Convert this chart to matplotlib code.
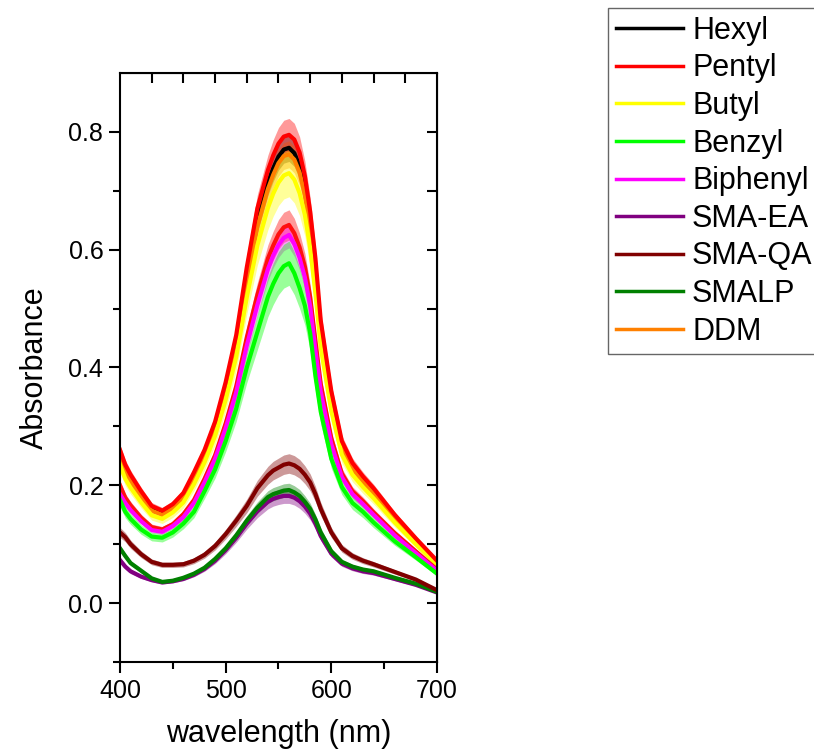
import numpy as np
import matplotlib.pyplot as plt
from matplotlib.ticker import MultipleLocator, FixedLocator

plt.rcParams['font.family'] = ['Liberation Sans', 'DejaVu Sans']

# wavelength grid (nm)
wavelength = [400, 405, 410, 420, 430, 440, 450, 460, 470, 480, 490, 500, 510, 520, 530,
              540, 545, 550, 555, 560, 565, 570, 575, 580, 585, 590, 600, 610, 620, 630,
              640, 660, 680, 700]

# mean absorbance
hexyl = [.251, .227, .211, .184, .160, .152, .163, .182, .215, .253, .300, .365, .443, .553, .649,
         .714, .738, .758, .770, .773, .764, .742, .703, .644, .566, .465, .349, .267, .231, .209,
         .189, .146, .107, .070]
pentyl = [.260, .235, .218, .190, .165, .157, .168, .187, .222, .260, .308, .375, .455, .570, .670,
          .735, .760, .780, .792, .795, .787, .765, .725, .665, .585, .480, .360, .275, .238, .215,
          .195, .150, .110, .072]
butyl = [.235, .211, .196, .171, .149, .143, .154, .171, .202, .239, .284, .345, .418, .519, .607,
         .671, .695, .714, .726, .730, .719, .696, .659, .603, .525, .434, .326, .252, .218, .197,
         .178, .137, .100, .065]
benzyl = [.175, .155, .143, .125, .113, .111, .120, .135, .155, .190, .227, .275, .330, .400, .460,
          .520, .542, .560, .572, .577, .560, .535, .505, .458, .385, .325, .245, .197, .170, .155,
          .137, .105, .078, .050]
biphenyl = [.185, .170, .158, .139, .124, .121, .131, .146, .170, .205, .245, .297, .358, .437, .506,
            .567, .590, .608, .620, .625, .610, .586, .553, .504, .429, .359, .270, .214, .185, .168,
            .150, .115, .085, .055]
sma_ea = [.073, .062, .054, .045, .039, .035, .037, .041, .048, .058, .072, .090, .111, .135, .156,
          .172, .177, .180, .182, .182, .179, .173, .164, .152, .135, .114, .084, .067, .059, .054,
          .051, .041, .031, .018]
sma_qa = [.120, .112, .100, .083, .070, .065, .065, .066, .072, .082, .097, .117, .140, .165, .195,
          .217, .225, .230, .235, .237, .234, .228, .218, .205, .185, .160, .120, .093, .080, .072,
          .066, .053, .040, .022]
smalp = [.093, .080, .068, .055, .042, .036, .038, .043, .050, .060, .075, .093, .115, .140, .162,
         .180, .185, .188, .191, .192, .188, .182, .172, .160, .142, .120, .088, .070, .062, .057,
         .054, .043, .033, .019]
ddm = [.247, .223, .207, .180, .157, .150, .161, .179, .212, .250, .296, .360, .436, .545, .639,
       .703, .727, .747, .759, .762, .753, .731, .692, .634, .555, .457, .343, .263, .228, .206,
       .186, .143, .105, .069]
# extra replicate curve drawn in red without a legend entry
pentyl_2 = [.200, .179, .166, .145, .129, .125, .134, .151, .175, .211, .251, .305, .368, .451, .523,
            .585, .607, .626, .638, .642, .628, .604, .571, .520, .445, .372, .280, .220, .190, .173,
            .154, .119, .088, .057]

labels = ['Hexyl', 'Pentyl', 'Butyl', 'Benzyl', 'Biphenyl', 'SMA-EA', 'SMA-QA', 'SMALP', 'DDM']
series = [hexyl, pentyl, butyl, benzyl, biphenyl, sma_ea, sma_qa, smalp, ddm]
colors = ['#000000', '#ff0000', '#ffff00', '#00ff00', '#ff00ff', '#800080', '#800000', '#008000', '#ff8000']
# relative spread of the shaded band
rel_sd = [0.03, 0.035, 0.055, 0.065, 0.035, 0.07, 0.07, 0.06, 0.03]

fig = plt.figure(figsize=(8.14, 7.54), dpi=100)
ax = fig.add_axes([0.1474, 0.122, 0.3894, 0.7812])

x = np.array(wavelength)

# draw order: back to front
order = [0, 8, 2, 4, 3, 5, 7, 6, 1]
for i in order:
    y = np.array(series[i])
    sd = y * rel_sd[i]
    ax.fill_between(x, y - sd, y + sd, color=colors[i], alpha=0.4, lw=0)
    ax.plot(x, y, color=colors[i], lw=3, label=labels[i], solid_joinstyle='round')
    if labels[i] == 'Butyl':
        y2 = np.array(pentyl_2)
        ax.fill_between(x, y2 - y2 * 0.04, y2 + y2 * 0.04, color='#ff0000', alpha=0.4, lw=0)
        ax.plot(x, y2, color='#ff1010', lw=3, label='_nolegend_', solid_joinstyle='round')

ax.set_xlim(400, 700)
ax.set_ylim(-0.1, 0.9)
ax.xaxis.set_major_locator(MultipleLocator(100))
ax.xaxis.set_minor_locator(MultipleLocator(50))
ax.yaxis.set_major_locator(FixedLocator([0.0, 0.2, 0.4, 0.6, 0.8]))
ax.yaxis.set_minor_locator(FixedLocator([-0.1, 0.1, 0.3, 0.5, 0.7]))

ax.tick_params(which='major', direction='out', length=8, width=1.5, labelsize=18, pad=4,
               top=False, right=False)
ax.tick_params(which='minor', direction='out', length=5, width=1.5, top=False, right=False)
for s in ax.spines.values():
    s.set_linewidth(1.5)

# top and right axes with inward ticks
top = ax.secondary_xaxis('top')
top.set_xticks(np.arange(430, 700, 30))
top.tick_params(direction='in', length=7, width=1.5, labeltop=False)
right = ax.secondary_yaxis('right')
right.set_yticks([0.0, 0.1, 0.2, 0.3, 0.4, 0.5, 0.6, 0.7, 0.8])
right.tick_params(direction='in', length=7, width=1.5, labelright=False)

ax.set_xlabel('wavelength (nm)', fontsize=22, labelpad=12)
ax.set_ylabel('Absorbance', fontsize=22, labelpad=13)

handles, labs = ax.get_legend_handles_labels()
hmap = dict(zip(labs, handles))
leg = fig.legend([hmap[l] for l in labels], labels, loc='upper left',
                 bbox_to_anchor=(608 / 814, 1 - 8 / 754), fontsize=22, frameon=True,
                 fancybox=False, edgecolor='#404040', handlelength=2.2, handletextpad=0.3,
                 labelspacing=0.25, borderpad=0.25, borderaxespad=0)
leg.get_frame().set_linewidth(1.0)
for lh in leg.get_lines():
    lh.set_linewidth(2.5)

fig.savefig('out.png', dpi=100)
